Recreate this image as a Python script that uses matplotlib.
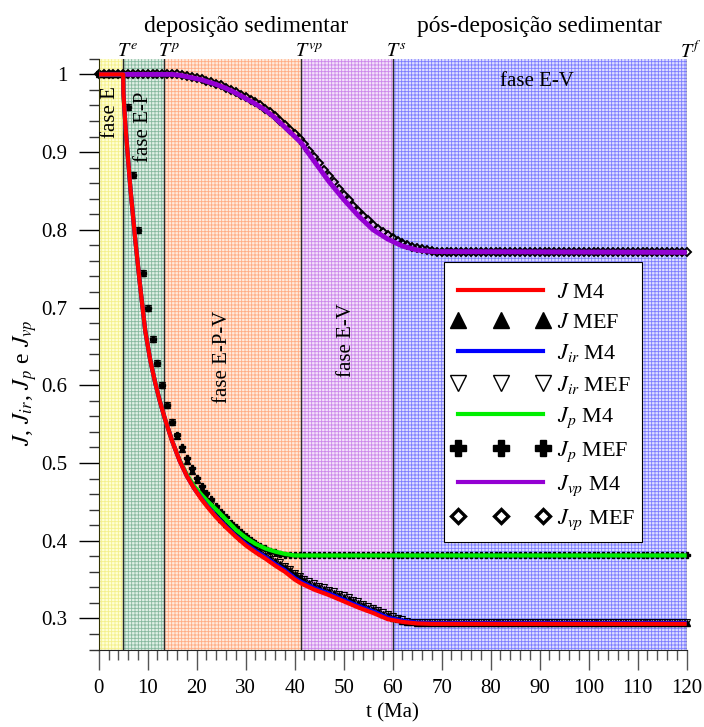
import numpy as np
import matplotlib
matplotlib.use("Agg")
import matplotlib.pyplot as plt
import matplotlib.transforms as mtransforms
from matplotlib.lines import Line2D
from matplotlib.patches import Rectangle
from matplotlib.ticker import MultipleLocator, FuncFormatter

plt.rcParams["font.family"] = ["Liberation Serif", "DejaVu Serif"]
plt.rcParams["mathtext.fontset"] = "stix"
plt.rcParams["hatch.linewidth"] = 0.6

# ---------------- data ----------------
# phase boundaries (Ma)
phase_bounds = [0.0, 5.0, 13.4, 41.3, 60.0, 120.0]
phase_names = ["fase E", "fase E-P", "fase E-P-V", "fase E-V"]
marker_names = [r"$T^{e}$", r"$T^{p}$", r"$T^{vp}$", r"$T^{s}$", r"$T^{f}$"]

# M4 solutions
t_m4 = [0.0, 5.0, 5.05, 5.5, 6.5, 7.5, 8.5, 9.5, 10.5, 11.5, 12.5, 13.5, 15.0,
        16.5, 18.0, 19.5, 21.0, 22.5, 24.0, 26.0, 28.0, 30.0, 32.0, 34.0, 36.0,
        38.0, 40.0, 41.3, 44.0, 47.0, 50.0, 53.0, 56.0, 59.0, 62.0, 65.0, 68.0,
        120.0]
J_m4 = [1.0, 1.0, 0.975, 0.93, 0.851, 0.785, 0.725, 0.670, 0.633, 0.604, 0.579,
        0.557, 0.528, 0.503, 0.483, 0.467, 0.453, 0.441, 0.430, 0.417, 0.405,
        0.394, 0.385, 0.377, 0.368, 0.360, 0.350, 0.345, 0.337, 0.330, 0.322,
        0.314, 0.307, 0.299, 0.2955, 0.2935, 0.293, 0.293]
Jir_m4 = [1.0, 1.0, 0.975, 0.93, 0.851, 0.785, 0.725, 0.670, 0.633, 0.604, 0.579,
          0.557, 0.528, 0.503, 0.483, 0.467, 0.454, 0.442, 0.431, 0.418, 0.406,
          0.396, 0.387, 0.379, 0.370, 0.362, 0.352, 0.347, 0.339, 0.332, 0.324,
          0.316, 0.309, 0.301, 0.297, 0.2945, 0.294, 0.294]
Jp_m4 = [1.0, 1.0, 0.975, 0.93, 0.851, 0.785, 0.725, 0.670, 0.633, 0.604, 0.579,
         0.557, 0.528, 0.504, 0.485, 0.470, 0.459, 0.449, 0.440, 0.427, 0.414,
         0.404, 0.396, 0.390, 0.386, 0.383, 0.381, 0.381, 0.381, 0.381, 0.381,
         0.381, 0.381, 0.381, 0.381, 0.381, 0.381, 0.381]
Jvp_m4 = [1.0, 1.0, 1.0, 1.0, 1.0, 1.0, 1.0, 1.0, 1.0, 1.0, 1.0, 1.0, 1.0,
          0.999, 0.997, 0.995, 0.993, 0.990, 0.987, 0.982, 0.976, 0.969, 0.962,
          0.954, 0.944, 0.932, 0.920, 0.912, 0.888, 0.862, 0.839, 0.818, 0.800,
          0.788, 0.779, 0.774, 0.772, 0.771]

# MEF solutions, one value per Ma
t_mef = np.arange(0, 121, 1.0)
J_mef = ([1.0] * 6 +
         [0.958, 0.870, 0.800, 0.745, 0.700, 0.660, 0.628, 0.600, 0.575, 0.553,
          0.535, 0.518, 0.503, 0.490, 0.478, 0.466, 0.455, 0.445, 0.436, 0.428,
          0.421,
          0.416, 0.410, 0.404, 0.399, 0.394, 0.390, 0.386, 0.382, 0.378, 0.374,
          0.370, 0.366, 0.362, 0.357, 0.353, 0.349, 0.346, 0.343, 0.340, 0.338,
          0.335, 0.333, 0.330, 0.328, 0.325, 0.322, 0.320, 0.317, 0.314, 0.312,
          0.309, 0.306, 0.304, 0.301, 0.299, 0.297, 0.296, 0.295] +
         [0.294] * 56)
Jir_mef = ([1.0] * 6 +
           [0.958, 0.870, 0.800, 0.745, 0.700, 0.660, 0.628, 0.600, 0.575, 0.553,
            0.535, 0.518, 0.503, 0.490, 0.478, 0.467, 0.457, 0.447, 0.438, 0.430,
            0.423,
            0.418, 0.412, 0.406, 0.401, 0.396, 0.392, 0.388, 0.384, 0.380, 0.376,
            0.372, 0.368, 0.364, 0.359, 0.355, 0.351, 0.348, 0.345, 0.342, 0.340,
            0.337, 0.335, 0.332, 0.330, 0.327, 0.324, 0.322, 0.319, 0.316, 0.314,
            0.311, 0.308, 0.306, 0.303, 0.301, 0.299, 0.297, 0.296] +
           [0.295] * 56)
Jp_mef = ([1.0] * 6 +
          [0.958, 0.870, 0.800, 0.745, 0.700, 0.660, 0.628, 0.600, 0.575, 0.553,
           0.536, 0.520, 0.506, 0.493, 0.481, 0.470,
           0.461, 0.453, 0.445, 0.437, 0.430, 0.423, 0.417, 0.411, 0.406, 0.401,
           0.397, 0.393, 0.390, 0.387, 0.385, 0.383] +
          [0.381] * 83)
Jvp_mef = ([1.0] * 17 +
           [0.999, 0.998, 0.997, 0.995, 0.994, 0.992, 0.990, 0.988, 0.986, 0.983,
            0.980, 0.977, 0.974, 0.971, 0.967, 0.964, 0.960, 0.956, 0.951, 0.946,
            0.940, 0.935, 0.929, 0.923, 0.917, 0.910, 0.902, 0.894, 0.886, 0.877,
            0.869, 0.861, 0.853, 0.845, 0.838, 0.831, 0.824, 0.818, 0.812, 0.806,
            0.801, 0.797, 0.793, 0.789, 0.786, 0.783, 0.780, 0.778, 0.776, 0.775,
            0.774, 0.773, 0.772] +
           [0.772] * 51)

# ---------------- figure ----------------
fig = plt.figure(figsize=(7.04, 7.27), dpi=100)
ax = fig.add_axes([0.1402, 0.1066, 0.8352, 0.8125])
ax.set_xlim(0, 120)
ax.set_ylim(0.26, 1.02)

# textured phase bands
face_cols = ["#ffffd4", "#e0f0e6", "#ffeadc", "#f3e0fa", "#dedeff"]
hatch_cols = ["#f4f08c", "#86b89e", "#ffac84", "#cc88ea", "#7c7cff"]
for k in range(5):
    ax.axvspan(phase_bounds[k], phase_bounds[k + 1], facecolor=face_cols[k],
               edgecolor=hatch_cols[k], hatch="+++++", lw=0, zorder=0)
for xb in phase_bounds[1:]:
    ax.axvline(xb, color="#2a2a2a", lw=1.0, zorder=1)

# phase labels
ax.text(2.5, 0.951, phase_names[0], rotation=90, ha="center", va="center", fontsize=15)
ax.text(9.2, 0.933, phase_names[1], rotation=90, ha="center", va="center", fontsize=15)
ax.text(25.2, 0.636, phase_names[2], rotation=90, ha="center", va="center", fontsize=15)
ax.text(50.65, 0.658, phase_names[3], rotation=90, ha="center", va="center", fontsize=15)
ax.text(89.5, 0.991, phase_names[3], ha="center", va="center", fontsize=15)

# time markers above the plot
xt = ax.get_xaxis_transform()
for xb, name in zip(phase_bounds[1:], marker_names):
    tr = mtransforms.offset_copy(xt, fig=fig, x=-4.5, y=0, units="points")
    ax.text(xb, 1.003, name, transform=tr, ha="left", va="baseline", fontsize=14.5)

ax.text(30, 1.046, "deposição sedimentar", transform=xt, ha="center",
        va="baseline", fontsize=17)
ax.text(90, 1.046, "pós-deposição sedimentar", transform=xt, ha="center",
        va="baseline", fontsize=17)

# MEF markers
ms = 4.5
ax.plot(t_mef, Jvp_mef, ls="none", marker="D", ms=ms * 0.85, mfc="none", mec="k",
        mew=1.4, zorder=2, clip_on=False)
ax.plot(t_mef, Jp_mef, ls="none", marker="P", ms=ms, color="k", zorder=2, clip_on=False)
ax.plot(t_mef, Jir_mef, ls="none", marker="v", ms=ms, mfc="none", mec="k",
        mew=0.8, zorder=2, clip_on=False)
ax.plot(t_mef, J_mef, ls="none", marker="^", ms=ms, color="k", zorder=2, clip_on=False)

# M4 lines
lw = 3.0
ax.plot(t_m4, Jvp_m4, color="#9400d3", lw=lw + 0.5, zorder=3, solid_capstyle="butt")
ax.plot(t_m4, Jp_m4, color="#00ee00", lw=lw, zorder=4, solid_capstyle="butt")
ax.plot(t_m4, Jir_m4, color="#0000ff", lw=lw, zorder=5, solid_capstyle="butt")
ax.plot(t_m4, J_m4, color="#ff0000", lw=lw, zorder=6, solid_capstyle="butt")

# axes styling
for side in ["top", "right"]:
    ax.spines[side].set_visible(False)
ax.spines["left"].set_color("#333300")
ax.spines["bottom"].set_color("#222222")
ax.xaxis.set_major_locator(MultipleLocator(10))
ax.xaxis.set_minor_locator(MultipleLocator(2))
ax.yaxis.set_major_locator(MultipleLocator(0.1))
ax.yaxis.set_minor_locator(MultipleLocator(0.02))
ax.yaxis.set_major_formatter(FuncFormatter(lambda v, p: f"{v:g}"))
ax.tick_params(axis="both", which="major", direction="out", length=14.5,
               width=1.0, labelsize=15)
ax.tick_params(axis="both", which="minor", direction="out", length=7, width=1.0)
ax.tick_params(axis="x", which="both", colors="#555555", labelcolor="black", pad=7)
ax.tick_params(axis="y", which="major", colors="black", pad=8)
ax.tick_params(axis="y", which="minor", colors="#333333")

ax.set_xlabel("t (Ma)", fontsize=15, labelpad=3.5)
fig.text(25 / 704, 1 - 383 / 727, r"$J$, $J_{ir}$, $J_p$ e $J_{vp}$", rotation=90,
         ha="center", va="center", fontsize=17)

# legend: white box plus frameless legend
ax.add_patch(Rectangle((0.5872, 0.1815), 0.9245 - 0.5872, 0.6555 - 0.1815,
                       transform=ax.transAxes, facecolor="white", edgecolor="black",
                       lw=0.8, zorder=9))
handles = [
    Line2D([], [], color="#ff0000", lw=lw),
    Line2D([], [], ls="none", marker="^", ms=11, color="k"),
    Line2D([], [], color="#0000ff", lw=lw),
    Line2D([], [], ls="none", marker="v", ms=11, mfc="none", mec="k", mew=1.0),
    Line2D([], [], color="#00ee00", lw=lw),
    Line2D([], [], ls="none", marker="P", ms=11, color="k"),
    Line2D([], [], color="#9400d3", lw=lw),
    Line2D([], [], ls="none", marker="D", ms=7.5, mfc="none", mec="k", mew=2.4),
]
labels = [r"$J$ M4", r"$J$ MEF", r"$J_{ir}$ M4", r"$J_{ir}$ MEF",
          r"$J_p$ M4", r"$J_p$ MEF", r"$J_{vp}$ M4", r"$J_{vp}$ MEF"]
leg = ax.legend(handles, labels, loc="upper left", bbox_to_anchor=(0.6003, 0.6221),
                borderaxespad=0, borderpad=0, numpoints=3, handlelength=4.4,
                handletextpad=0.35, labelspacing=0.43, fontsize=16, frameon=False)
leg.set_zorder(10)

fig.savefig("out.png", dpi=100)
